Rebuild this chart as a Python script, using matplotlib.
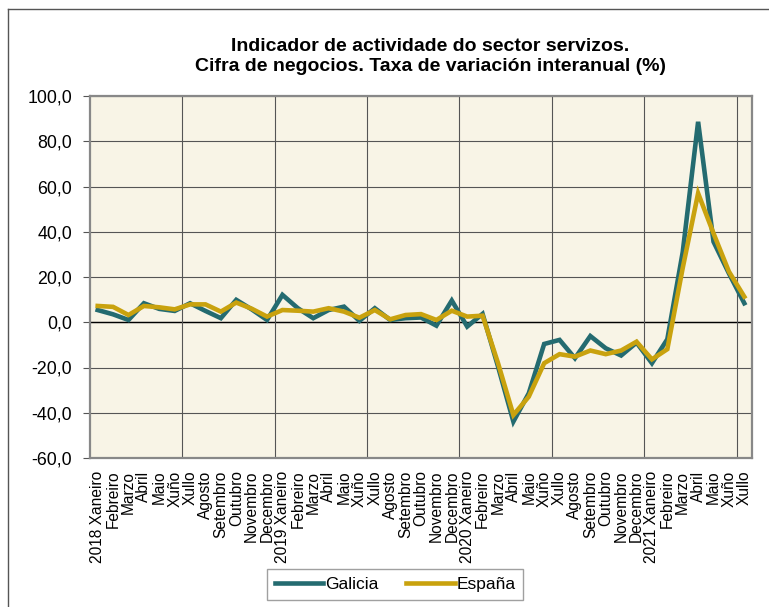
import matplotlib
matplotlib.use("Agg")
import matplotlib.pyplot as plt
from matplotlib.lines import Line2D

plt.rcParams['font.family'] = ['Liberation Sans', 'DejaVu Sans']

# Meses (2018 Xaneiro - 2021 Xullo)
meses = ["Xaneiro", "Febreiro", "Marzo", "Abril", "Maio", "Xuño", "Xullo",
         "Agosto", "Setembro", "Outubro", "Novembro", "Decembro"]
etiquetas = []
for ano in [2018, 2019, 2020]:
    etiquetas += [f"{ano} {m}" if i == 0 else m for i, m in enumerate(meses)]
etiquetas += ["2021 Xaneiro"] + meses[1:7]

galicia = [5.4, 3.5, 1.0, 8.4, 5.9, 5.0, 8.4, 5.0, 1.8, 9.9, 5.7, 1.0,
           12.1, 6.2, 1.8, 5.4, 6.9, 0.6, 6.2, 1.0, 1.8, 2.1, -1.5, 9.6,
           -1.9, 3.7, -19.5, -43.9, -31.4, -9.6, -7.8, -15.9, -6.1, -11.5,
           -14.7, -9.0, -18.1, -7.5, 31.0, 88.6, 35.6, 21.6, 8.4]
espana = [7.2, 6.8, 3.2, 7.2, 6.6, 5.7, 7.9, 7.9, 4.7, 8.7, 6.0, 2.5,
          5.4, 5.1, 4.7, 6.2, 4.7, 2.0, 5.4, 1.3, 3.2, 3.6, 1.0, 5.1,
          2.5, 2.9, -18.0, -41.0, -32.9, -18.1, -14.1, -15.2, -12.5, -14.1,
          -12.5, -8.6, -16.4, -11.9, 24.0, 57.0, 39.3, 22.4, 11.3]

yticks = list(range(-60, 101, 20))

teal = "#246B70"
gold = "#C9A20E"

fig = plt.figure(figsize=(7.69, 6.07), dpi=100)
ax = fig.add_axes([90 / 769, 1 - 458 / 607, 662 / 769, 362 / 607])
ax.set_facecolor("#F8F4E6")

x = list(range(len(etiquetas)))

# grid
for v in yticks:
    ax.axhline(v, color="#555555", lw=0.8, zorder=1)
ax.axhline(0, color="black", lw=1.0, zorder=1)
for b in range(5, len(etiquetas), 6):
    ax.axvline(b + 0.5, color="#555555", lw=0.8, zorder=1)

ax.plot(x, galicia, color=teal, lw=3.3, label="Galicia", zorder=3,
        solid_joinstyle="miter")
ax.plot(x, espana, color=gold, lw=3.3, label="España", zorder=4,
        solid_joinstyle="miter")

ax.set_xlim(-0.5, len(etiquetas) - 0.5)
ax.set_ylim(-60, 100)
ax.set_yticks(yticks)
ax.set_yticklabels([f"{v:.1f}".replace(".", ",") for v in yticks], fontsize=12.8)
ax.set_xticks(x)
ax.set_xticklabels(etiquetas, rotation=90, fontsize=11.2)
ax.tick_params(axis="x", length=0, pad=9)
ax.tick_params(axis="y", length=5, color="#555555", pad=8)

for s in ax.spines.values():
    s.set_color("#888888")
    s.set_linewidth(1.6)

fig.text(430 / 769, 1 - 56.5 / 607,
         "Indicador de actividade do sector servizos.\n"
         "Cifra de negocios. Taxa de variación interanual (%)",
         ha="center", va="center", fontsize=14, fontweight="bold",
         linespacing=1.2)

# outer frame (cropped on right and bottom)
fig.add_artist(Line2D([8 / 769, 8 / 769], [0, 1 - 9 / 607],
                      transform=fig.transFigure, color="#555555", lw=1))
fig.add_artist(Line2D([8 / 769, 1], [1 - 9 / 607, 1 - 9 / 607],
                      transform=fig.transFigure, color="#555555", lw=1))

leg = fig.legend(loc="center", bbox_to_anchor=(395 / 769, 1 - 584.5 / 607),
                 ncol=2, fontsize=12.5, frameon=True, fancybox=False,
                 edgecolor="#888888", handlelength=2.8, handletextpad=0.1,
                 columnspacing=1.6, borderpad=0.45)
leg.get_frame().set_linewidth(1.0)

fig.savefig("out.png", dpi=100)
